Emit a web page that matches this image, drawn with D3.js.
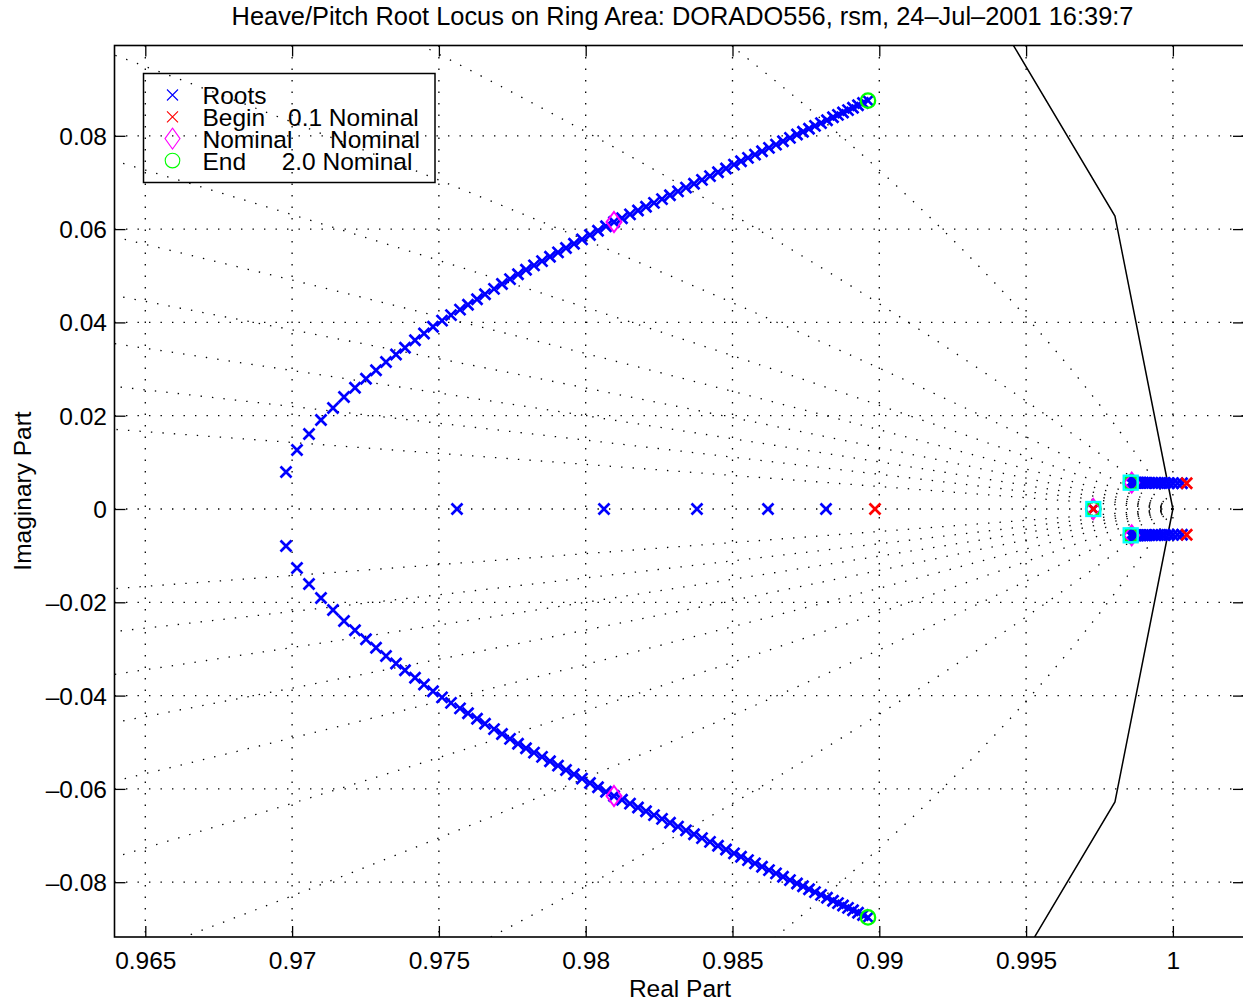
<!DOCTYPE html>
<html>
<head>
<meta charset="utf-8">
<script src="https://cdn.jsdelivr.net/npm/d3@7"></script>
<style>
  body { margin: 0; background: #fff; }
  text { font-family: "Liberation Sans", Arial, Helvetica, sans-serif; fill: #000; }
</style>
</head>
<body>
<div id="chart"></div>
<script>
// axis ticks
const xTicks = [0.965, 0.97, 0.975, 0.98, 0.985, 0.99, 0.995, 1];
const xTickLabels = ["0.965", "0.97", "0.975", "0.98", "0.985", "0.99", "0.995", "1"];
const yTicks = [-0.08, -0.06, -0.04, -0.02, 0, 0.02, 0.04, 0.06, 0.08];
const yTickLabels = ["\u20130.08", "\u20130.06", "\u20130.04", "\u20130.02", "0", "0.02", "0.04", "0.06", "0.08"];

// damping ratios of the z-plane grid
const zetaValues = [0.1, 0.2, 0.3, 0.4, 0.5, 0.6, 0.7, 0.8, 0.9];

// complex root branch (upper half, lower half is its conjugate)
const locusRe = [0.969792, 0.970167, 0.970576, 0.970984, 0.971393, 0.971768,
  0.972142, 0.972517, 0.972858, 0.973198, 0.973539, 0.973845, 0.974186, 0.974493, 0.974799,
  0.975106, 0.975412, 0.975719, 0.975991, 0.976298, 0.976570, 0.976877, 0.977149, 0.977422, 0.977694,
  0.977967, 0.978239, 0.978512, 0.978784, 0.979057, 0.979329, 0.979602, 0.979874, 0.980146, 0.980419, 0.980692, 0.980964,
  0.981236, 0.981509, 0.981781, 0.982054, 0.982326, 0.982599, 0.982871, 0.983144, 0.983416, 0.983689, 0.983961,
  0.984234, 0.984506, 0.984779, 0.985051, 0.985290, 0.985528, 0.985766, 0.986005, 0.986243, 0.986482, 0.986720,
  0.986958, 0.987197, 0.987401, 0.987606, 0.987810, 0.988014, 0.988219, 0.988423, 0.988593, 0.988764, 0.988934,
  0.989104, 0.989275, 0.989445, 0.989615];
const locusIm = [0.007931, 0.012647, 0.016077, 0.019078, 0.021651, 0.024009,
  0.025981, 0.027931, 0.029732, 0.031511, 0.033119, 0.034566, 0.036173, 0.037621, 0.039067,
  0.040386, 0.041565, 0.042744, 0.043794, 0.044973, 0.046024, 0.047181, 0.048231, 0.049282, 0.050332,
  0.051297, 0.052219, 0.053140, 0.054084, 0.055005, 0.055948, 0.056870, 0.057792, 0.058735, 0.059657, 0.060600, 0.061522,
  0.062337, 0.063151, 0.063987, 0.064802, 0.065617, 0.066431, 0.067267, 0.068082, 0.068896, 0.069711, 0.070547,
  0.071362, 0.072176, 0.072991, 0.073826, 0.074534, 0.075263, 0.075970, 0.076678, 0.077406, 0.078113, 0.078842,
  0.079550, 0.080278, 0.080879, 0.081500, 0.082122, 0.082722, 0.083344, 0.083966, 0.084480, 0.084995, 0.085509,
  0.086024, 0.086538, 0.087031, 0.087546];

// real roots on the axis
const realRootRe = [0.975617, 0.980623, 0.983791, 0.986209, 0.988185, 0.997289];

// branch near the unit circle (upper half)
const nearRe = [1.000310, 1.000157, 1.000003, 0.999867, 0.999731, 0.999612, 0.999493, 0.999390,
  0.999288, 0.999203, 0.999118, 0.999050, 0.998982, 0.998913, 0.998862, 0.998811, 0.998760,
  0.998726, 0.998692, 0.998658, 0.998624, 0.998597, 0.998573, 0.998563];
const nearIm = [0.00552, 0.00553, 0.00554, 0.00555, 0.00556, 0.00557, 0.00558, 0.00559,
  0.00560, 0.00560, 0.00561, 0.00561, 0.00562, 0.00562, 0.00563, 0.00563, 0.00563,
  0.00564, 0.00564, 0.00564, 0.00564, 0.00564, 0.00564, 0.00564];

// special gains
const beginRe = [0.989854, 1.000470, 1.000470, 0.997289];
const beginIm = [0, 0.00551, -0.00551, 0];
const nominalRe = [0.980964, 0.980964, 0.998597, 0.998597, 0.997289];
const nominalIm = [0.061522, -0.061522, 0.00564, -0.00564, 0];
const endRe = [0.989615, 0.989615, 0.998563, 0.998563, 0.997289];
const endIm = [0.087546, -0.087546, 0.00564, -0.00564, 0];
const squareRe = [0.998563, 0.998563, 0.997289];
const squareIm = [0.00564, -0.00564, 0];

const legendLabels = ["Roots", "Begin", "Nominal", "End"];
const legendNotes = ["", "0.1 Nominal", "Nominal", "2.0 Nominal"];

const W = 1243, H = 1004;
const pLeft = 114.5, pRight = 1244, pTop = 45.5, pBottom = 937;

const x = d3.scaleLinear().domain([0.963951, 1.002422]).range([pLeft, pRight]);
const y = d3.scaleLinear().domain([-0.091747, 0.099357]).range([pBottom, pTop]);

const svg = d3.select("#chart").append("svg")
  .attr("width", W).attr("height", H);

svg.append("clipPath").attr("id", "plot")
  .append("rect").attr("x", pLeft).attr("y", pTop)
  .attr("width", pRight - pLeft).attr("height", pBottom - pTop);

const dots = "1.4,10.1";

// grid at the ticks
const grid = svg.append("g").attr("stroke", "#000").attr("stroke-width", 1.3)
  .attr("stroke-dasharray", dots).attr("fill", "none");
grid.selectAll(".gx").data(xTicks).enter().append("line")
  .attr("x1", d => x(d)).attr("x2", d => x(d)).attr("y1", pTop).attr("y2", pBottom);
grid.selectAll(".gy").data(yTicks).enter().append("line")
  .attr("y1", d => y(d)).attr("y2", d => y(d)).attr("x1", pLeft).attr("x2", pRight);

// z-plane constant damping lines
const plot = svg.append("g").attr("clip-path", "url(#plot)");
const line = d3.line().x(d => x(d[0])).y(d => y(d[1]));
const wSteps = d3.range(0, 0.3, 0.0002);
zetaValues.forEach(z => {
  [1, -1].forEach(sg => {
    const pts = wSteps.map(w => {
      const r = Math.exp(-z * w), a = w * Math.sqrt(1 - z * z);
      return [r * Math.cos(a), sg * r * Math.sin(a)];
    });
    plot.append("path").attr("d", line(pts)).attr("fill", "none")
      .attr("stroke", "#000").attr("stroke-width", 1.3).attr("stroke-dasharray", dots);
  });
});

// unit circle
const circlePts = d3.range(0, 101).map(k => [Math.cos(2 * Math.PI * k / 100), Math.sin(2 * Math.PI * k / 100)]);
plot.append("path").attr("d", line(circlePts)).attr("fill", "none")
  .attr("stroke", "#000").attr("stroke-width", 1.5);

// markers
const xMark = "M-5.5,-5.5L5.5,5.5M-5.5,5.5L5.5,-5.5";
function cross(pts, color, w) {
  plot.selectAll(null).data(pts).enter().append("path")
    .attr("d", xMark)
    .attr("transform", d => `translate(${x(d[0])},${y(d[1])})`)
    .attr("stroke", color).attr("stroke-width", w).attr("fill", "none");
}

const roots = [];
locusRe.forEach((r, i) => { roots.push([r, locusIm[i]]); roots.push([r, -locusIm[i]]); });
realRootRe.forEach(r => roots.push([r, 0]));
nearRe.forEach((r, i) => { roots.push([r, nearIm[i]]); roots.push([r, -nearIm[i]]); });

cross(roots, "#0000ff", 2.7);
cross(beginRe.map((r, i) => [r, beginIm[i]]), "#ff0000", 2.7);

plot.selectAll(null).data(nominalRe.map((r, i) => [r, nominalIm[i]])).enter().append("path")
  .attr("d", "M0,-10L7.5,0L0,10L-7.5,0Z")
  .attr("transform", d => `translate(${x(d[0])},${y(d[1])})`)
  .attr("stroke", "#ff00ff").attr("stroke-width", 2).attr("fill", "none");

plot.selectAll(null).data(endRe.map((r, i) => [r, endIm[i]])).enter().append("circle")
  .attr("cx", d => x(d[0])).attr("cy", d => y(d[1])).attr("r", 7.2)
  .attr("stroke", "#00ff00").attr("stroke-width", 2.3).attr("fill", "none");

plot.selectAll(null).data(squareRe.map((r, i) => [r, squareIm[i]])).enter().append("rect")
  .attr("x", d => x(d[0]) - 7).attr("y", d => y(d[1]) - 7)
  .attr("width", 14).attr("height", 14)
  .attr("stroke", "#00ffff").attr("stroke-width", 2.3).attr("fill", "none");

// axes
const ax = svg.append("g");
const bottomAxis = d3.axisBottom(x).tickValues(xTicks).tickFormat((d, i) => xTickLabels[i])
  .tickSizeInner(-11).tickSizeOuter(0);
const gb = ax.append("g").attr("transform", `translate(0,${pBottom})`).call(bottomAxis);
gb.selectAll("text").attr("y", 31.5).attr("dy", 0);

const leftAxis = d3.axisLeft(y).tickValues(yTicks).tickFormat((d, i) => yTickLabels[i])
  .tickSizeInner(-11).tickSizeOuter(0).tickPadding(7.5);
const gl = ax.append("g").attr("transform", `translate(${pLeft},0)`).call(leftAxis);
gl.selectAll("text").attr("dy", "0.35em");

ax.append("g").attr("transform", `translate(0,${pTop})`)
  .call(d3.axisTop(x).tickValues(xTicks).tickFormat("").tickSizeInner(-11).tickSizeOuter(0));
ax.append("g").attr("transform", `translate(${pRight},0)`)
  .call(d3.axisRight(y).tickValues(yTicks).tickFormat("").tickSizeInner(-11).tickSizeOuter(0));

ax.selectAll(".domain").remove();
ax.selectAll(".tick line").attr("stroke", "#000").attr("stroke-width", 1.3);
ax.selectAll("text").style("font-size", "24.5px").attr("font-family", null);

svg.append("rect").attr("x", pLeft).attr("y", pTop)
  .attr("width", pRight - pLeft).attr("height", pBottom - pTop)
  .attr("fill", "none").attr("stroke", "#000").attr("stroke-width", 1.6);

// labels
svg.append("text").attr("x", 682.5).attr("y", 25).attr("text-anchor", "middle")
  .style("font-size", "25.4px")
  .text("Heave/Pitch Root Locus on Ring Area: DORADO556, rsm, 24\u2013Jul\u20132001 16:39:7");
svg.append("text").attr("x", 680).attr("y", 996.5).attr("text-anchor", "middle")
  .style("font-size", "24.5px").text("Real Part");
svg.append("text").attr("transform", "translate(31,491) rotate(-90)").attr("text-anchor", "middle")
  .style("font-size", "24.5px").text("Imaginary Part");

// legend
const lg = svg.append("g");
lg.append("rect").attr("x", 143.5).attr("y", 73.5).attr("width", 291.5).attr("height", 109)
  .attr("fill", "none").attr("stroke", "#000").attr("stroke-width", 1.5);
const rowY = [95, 116.8, 138.6, 160.6];
const noteX = [0, 288, 330, 281.7];
legendLabels.forEach((lab, i) => {
  lg.append("text").attr("x", 202.5).attr("y", rowY[i] + 9).style("font-size", "24.5px").text(lab);
  if (legendNotes[i]) {
    lg.append("text").attr("x", noteX[i]).attr("y", rowY[i] + 9).style("font-size", "24.5px").text(legendNotes[i]);
  }
});
lg.append("path").attr("d", xMark).attr("transform", `translate(172.5,${rowY[0]})`)
  .attr("stroke", "#0000ff").attr("stroke-width", 1.1).attr("fill", "none");
lg.append("path").attr("d", xMark).attr("transform", `translate(172.5,${rowY[1]})`)
  .attr("stroke", "#ff0000").attr("stroke-width", 1.1).attr("fill", "none");
lg.append("path").attr("d", "M0,-10.5L7.5,0L0,10.5L-7.5,0Z").attr("transform", `translate(172.5,${rowY[2]})`)
  .attr("stroke", "#ff00ff").attr("stroke-width", 1.1).attr("fill", "none");
lg.append("circle").attr("cx", 172.5).attr("cy", rowY[3]).attr("r", 7.3)
  .attr("stroke", "#00ff00").attr("stroke-width", 1.1).attr("fill", "none");
</script>
</body>
</html>
